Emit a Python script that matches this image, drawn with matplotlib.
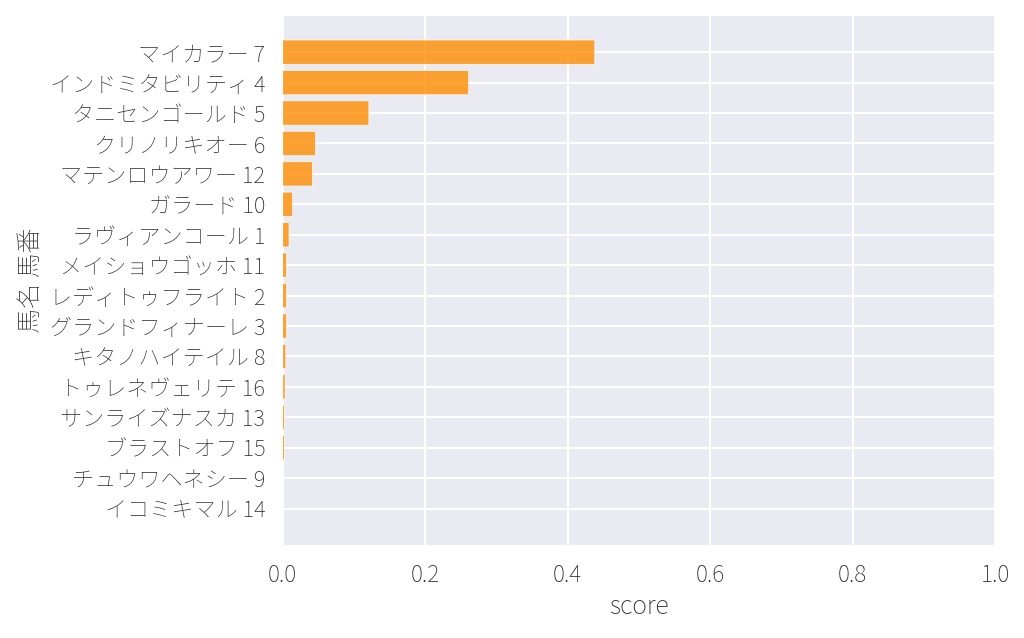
import matplotlib
matplotlib.use('Agg')
import matplotlib.pyplot as plt
import seaborn as sns

# horse name + number, top to bottom
horses = ['マイカラー 7', 'インドミタビリティ 4', 'タニセンゴールド 5', 'クリノリキオー 6',
          'マテンロウアワー 12', 'ガラード 10', 'ラヴィアンコール 1', 'メイショウゴッホ 11',
          'レディトゥフライト 2', 'グランドフィナーレ 3', 'キタノハイテイル 8', 'トゥレネヴェリテ 16',
          'サンライズナスカ 13', 'ブラストオフ 15', 'チュウワヘネシー 9', 'イコミキマル 14']
scores = [0.438, 0.261, 0.121, 0.046, 0.042, 0.014, 0.009, 0.0055,
          0.0055, 0.0055, 0.0045, 0.0035, 0.0025, 0.0025, 0.0003, 0.0002]

sns.set_theme(style='darkgrid', context='talk')
plt.rcParams['font.family'] = ['Noto Sans CJK JP', 'DejaVu Sans']
plt.rcParams['font.weight'] = 100

fig, ax = plt.subplots(figsize=(10.24, 6.38), dpi=100)
fig.subplots_adjust(left=0.276, right=0.972, top=0.975, bottom=0.146)

bars = ax.barh(horses[::-1], scores[::-1], color='darkorange', alpha=0.8,
               edgecolor=(1, 1, 1, 0.5), linewidth=0.6)
for b in bars:
    b.set_snap(False)
# white spines would hide the thinnest bars
for s in ax.spines.values():
    s.set_visible(False)
ax.set_xlim(0, 1)
ax.tick_params(axis='y', labelsize=15.9)
ax.set_xlabel('score', fontweight=100)
ax.set_ylabel('馬名 馬番', fontweight=100)

fig.savefig('out.png', dpi=100)
